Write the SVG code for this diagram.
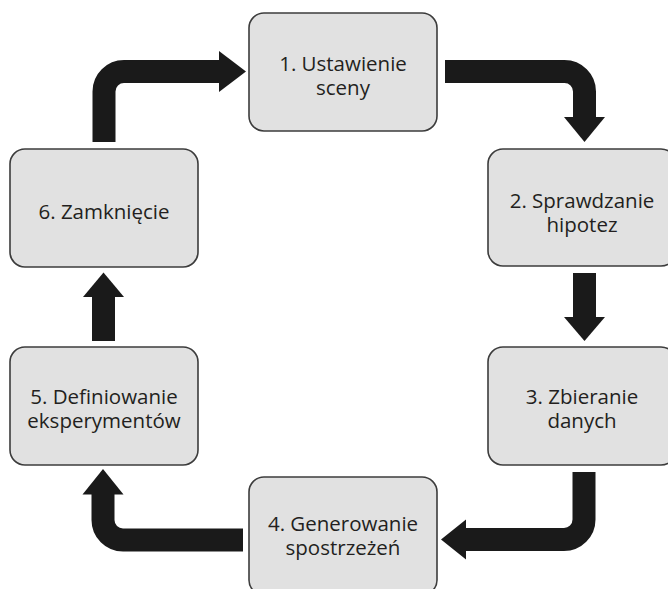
<svg xmlns="http://www.w3.org/2000/svg" width="668" height="589" viewBox="0 0 668 589">
<defs>
<style>
.box rect{fill:#e1e1e1;stroke:#3c3c3c;stroke-width:1.6}
.box text{font-family:"Open Sans","Noto Sans",sans-serif;font-size:20.5px;fill:#231f20;text-anchor:middle}
.shaft{fill:none;stroke:#1a1a1a;stroke-width:23;stroke-linecap:butt}
.head{fill:#1a1a1a}
</style>
</defs>
<rect width="668" height="589" fill="#ffffff"/>
<g id="connectors">
<path class="shaft" d="M104,142 V91.5 A20,20 0 0 1 124,71.5 H220"/>
<polygon class="head" points="219,51 246,71.5 219,92"/>
<path class="shaft" d="M445,71.5 H564.5 A20,20 0 0 1 584.5,91.5 V118"/>
<polygon class="head" points="564,117 605,117 584.5,142"/>
<path class="shaft" d="M584.5,273 V318"/>
<polygon class="head" points="564,317 605,317 584.5,341"/>
<path class="shaft" d="M584,472 V519.5 A20,20 0 0 1 564,539.5 H465"/>
<polygon class="head" points="466,519.5 466,559.5 441,539.5"/>
<path class="shaft" d="M243,540 H123 A20,20 0 0 1 103,520 V493"/>
<polygon class="head" points="82.5,494.5 123.5,494.5 103,469"/>
<path class="shaft" d="M103.5,341 V296"/>
<polygon class="head" points="83,297 124,297 103.5,272.5"/>
</g>
<g id="node1" class="box">
<rect x="249" y="13" width="188" height="118" rx="15"/>
<text x="343" y="70.5">1. Ustawienie</text>
<text x="343" y="94.5">sceny</text>
</g>
<g id="node2" class="box">
<rect x="488" y="149" width="188" height="117" rx="15"/>
<text x="582" y="207.5">2. Sprawdzanie</text>
<text x="582" y="231.5">hipotez</text>
</g>
<g id="node3" class="box">
<rect x="488" y="347" width="188" height="118" rx="15"/>
<text x="582" y="403.5">3. Zbieranie</text>
<text x="582" y="427.5">danych</text>
</g>
<g id="node4" class="box">
<rect x="249" y="477" width="188" height="118" rx="15"/>
<text x="343" y="531">4. Generowanie</text>
<text x="343" y="555">spostrzeżeń</text>
</g>
<g id="node5" class="box">
<rect x="10" y="347" width="188" height="118" rx="15"/>
<text x="104" y="403.5">5. Definiowanie</text>
<text x="104" y="427.5">eksperymentów</text>
</g>
<g id="node6" class="box">
<rect x="10" y="149" width="188" height="118" rx="15"/>
<text x="104" y="218.5">6. Zamknięcie</text>
</g>
</svg>
